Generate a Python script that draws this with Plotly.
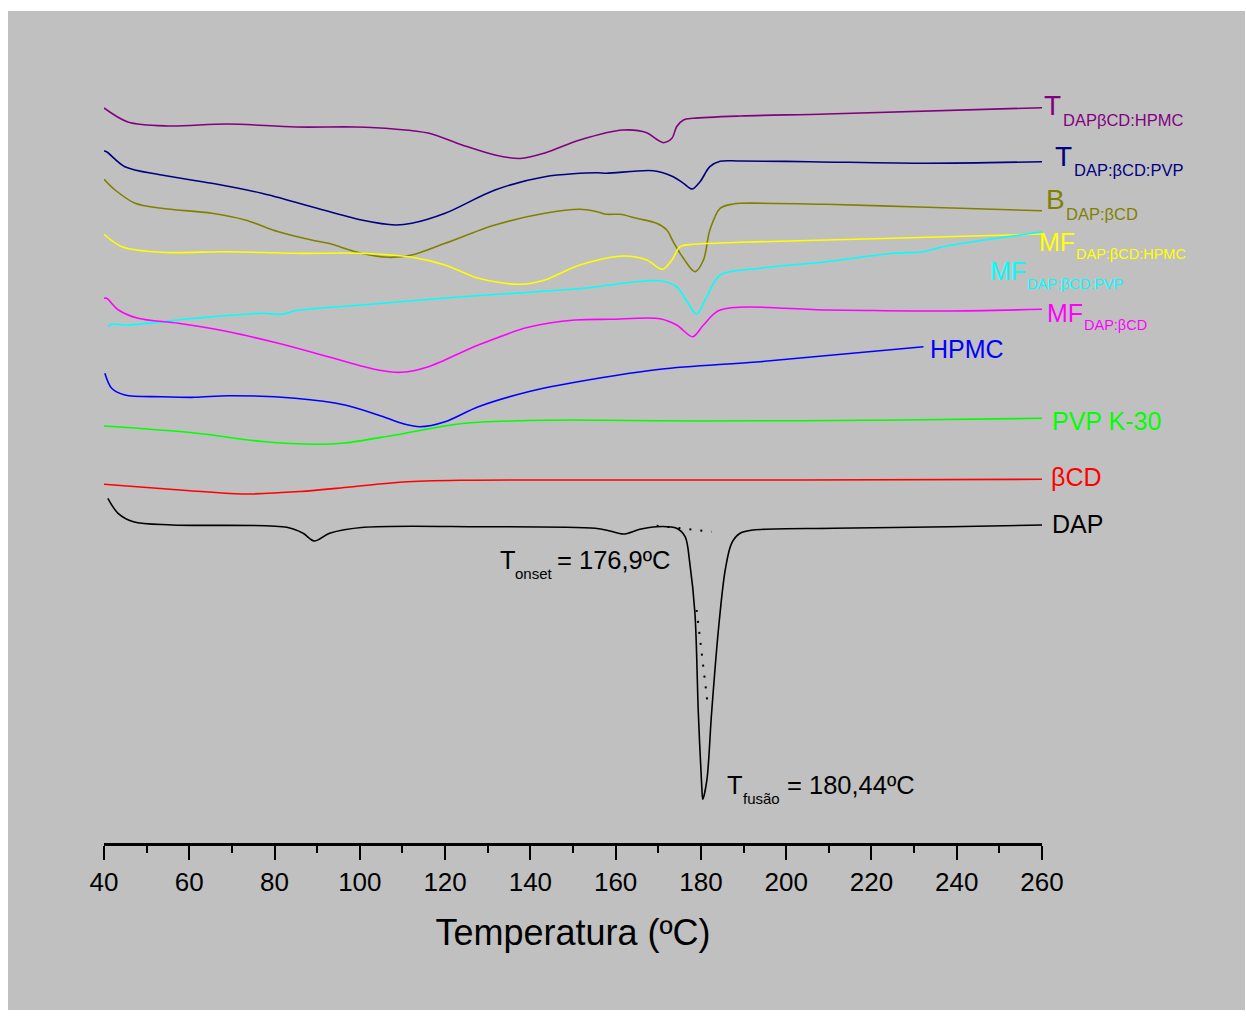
import plotly.graph_objects as go

# ---------------- data (temperature in ºC, heat-flow signal in arbitrary offset units) ----------------
T_tern_hpmc = [40, 45.6, 55, 69, 85, 99, 108, 116, 124, 131.7, 137.6, 143.4, 151.6, 161.7, 167.3, 169.6, 171.2, 173.2, 174.3, 175.9, 178.2, 189.2, 209.6, 260]
S_tern_hpmc = [735, 721, 717, 719, 716, 716, 714, 710, 698, 688, 684.5, 690, 703, 713, 710.3, 703.7, 700.3, 704.7, 716.3, 723, 724.7, 727, 729, 735.3]

T_tern_pvp = [40, 40.6, 44.9, 53.5, 65.3, 77, 88.7, 100.4, 108.3, 112.2, 120, 131.7, 143.4, 155.6, 157.9, 168.8, 173.5, 175.9, 178, 179.8, 182.1, 184.5, 189.2, 205.6, 233, 260]
S_tern_pvp = [692, 691.3, 676.3, 668, 659.7, 649.7, 636.3, 623, 618, 619.7, 629.7, 653, 666.3, 670.3, 669.7, 672.3, 666.3, 659.7, 654, 661.3, 676.3, 681.7, 682, 681.3, 679.7, 681.3]

T_bin = [40, 42.6, 47.3, 53.5, 65.3, 73.1, 80.9, 88.7, 92.6, 100.4, 106.7, 112.2, 120, 131.7, 143.4, 151.6, 155.6, 157.9, 161, 164.9, 169.6, 172, 173.5, 175.9, 178.6, 180.6, 182.1, 184.5, 187.6, 189.2, 209.5, 233, 260]
S_bin = [663.7, 653, 639.7, 634.7, 629.7, 623, 611.3, 603, 599.7, 589.7, 585.7, 588, 599.7, 618, 629.7, 633.7, 631.3, 628.7, 628.7, 624.7, 619.7, 613, 601.3, 584.7, 571.3, 583, 613, 634.7, 639, 639.7, 638.7, 635.7, 632.3]

T_mf_hpmc = [40, 44.2, 53.5, 69.2, 84.8, 100.4, 112.2, 120, 127.8, 137.6, 143.4, 151.6, 161.8, 167.3, 171, 173.2, 175.1, 178.2, 189.2, 225, 260]
S_mf_hpmc = [608.7, 596.3, 590.7, 591.3, 589.7, 589.7, 585.7, 578, 564.7, 558.7, 563, 578, 587, 583, 573.7, 583, 596.3, 598.7, 600.7, 604.7, 609]

T_mf_pvp = [40.9, 41.8, 45.7, 61.3, 77, 81.7, 84.8, 100.4, 123.9, 150.5, 170.4, 174.3, 177, 179, 181.4, 184.5, 193.9, 209.5, 225.1, 232.2, 236.8, 260]
S_mf_pvp = [516.3, 518.7, 518, 524.7, 529.7, 528.7, 532.3, 538, 546.3, 554, 562.3, 556.3, 539.7, 529, 546.3, 568, 574.7, 581.3, 589.7, 591.3, 596.3, 611]

T_mf_bcd = [40, 40.6, 43.4, 48, 57.4, 69.2, 80.9, 92.6, 104.3, 109.8, 116.1, 127.8, 139.5, 150.5, 158.7, 170.4, 174.3, 178.1, 180.6, 184.5, 209.5, 236.8, 260]
S_mf_bcd = [544.7, 544.7, 533, 524.7, 519.7, 511.3, 499.7, 486.3, 473, 470.7, 476.3, 498, 515.7, 523, 523.7, 524.3, 518, 506.3, 518, 533, 533, 532, 533.7]

T_hpmc = [40.2, 41.8, 44.9, 53.5, 61.3, 69.2, 84.8, 96.5, 104.3, 110.6, 114.1, 120, 127.8, 139.5, 147, 170.4, 193.9, 232.2]
S_hpmc = [469.7, 454.7, 448, 446.3, 445.7, 447.3, 444.7, 438, 428, 418.7, 416.3, 421.3, 436.3, 451.3, 458, 473.7, 481.3, 496.3]

T_pvp = [40, 61.3, 77.1, 89.5, 96.5, 108.3, 124, 139.5, 150.5, 179.8, 226.7, 260]
S_pvp = [417, 410, 401.5, 398.7, 400, 408, 419.5, 422.5, 423, 422, 423, 424.7]

T_bcd = [40, 57.8, 72.6, 86, 97.7, 110.1, 123.5, 156.3, 203.2, 260]
S_bcd = [358.7, 353, 349, 351.5, 356, 361, 362.7, 363, 363, 363.7]

T_dap = [40.9, 43.3, 46.9, 56, 82.9, 86.7, 89.3, 92.9, 101, 128.1, 155.2, 158.7, 161.8, 165.7, 169.6, 174.3, 176.3, 177.4, 178.6, 179.4, 180.2, 180.44, 181.4, 182.5, 184.1, 185.7, 187.2, 189.2, 192.3, 211.1, 238.4, 260]
S_dap = [344.7, 329.7, 321.3, 318, 315.7, 309.7, 302, 309.7, 315.7, 316.3, 314.7, 312, 309, 313.7, 316.3, 314.7, 306.3, 279.7, 229.7, 129.7, 56.3, 43.7, 63, 129.7, 213, 273, 299.7, 309.7, 313, 314.7, 316.3, 318]

# onset construction (dotted): extrapolated baseline and inflection tangent
T_onset_base = [169.6, 182.5]
S_onset_base = [317.3, 311.3]
T_onset_tan = [179.0, 181.7]
S_onset_tan = [233, 134.7]

series = [
    (T_tern_hpmc, S_tern_hpmc, "#800080"),
    (T_tern_pvp, S_tern_pvp, "#000080"),
    (T_bin, S_bin, "#808000"),
    (T_mf_hpmc, S_mf_hpmc, "#ffff00"),
    (T_mf_pvp, S_mf_pvp, "#00ffff"),
    (T_mf_bcd, S_mf_bcd, "#ff00ff"),
    (T_hpmc, S_hpmc, "#0000ff"),
    (T_pvp, S_pvp, "#00ff00"),
    (T_bcd, S_bcd, "#ff0000"),
    (T_dap, S_dap, "#000000"),
]

x_ticks = [40, 60, 80, 100, 120, 140, 160, 180, 200, 220, 240, 260]

# ---------------- figure ----------------
W, H = 1246, 1017
ML, MR, MT, MB = 104, 204, 11, 174
PW, PH = W - ML - MR, H - MT - MB
FONT = "Arial, Liberation Sans, sans-serif"


def px(xp):
    return (xp - ML) / PW


def py(yp):
    return (H - MB - yp) / PH


fig = go.Figure()
for T, S, c in series:
    fig.add_trace(go.Scatter(x=T, y=S, mode="lines", line=dict(color=c, width=1.6, shape="spline", smoothing=0.9),
                             hoverinfo="skip"))

for T, S in [(T_onset_base, S_onset_base), (T_onset_tan, S_onset_tan)]:
    fig.add_trace(go.Scatter(x=T, y=S, mode="lines", line=dict(color="black", width=2, dash="2px,9px"),
                             hoverinfo="skip"))

annotations = []


def label(text, xp, yp, size, color):
    annotations.append(dict(text=text, x=px(xp), y=py(yp), xref="paper", yref="paper", xanchor="left",
                            yanchor="middle", showarrow=False, font=dict(family=FONT, size=size, color=color)))


MAIN, SUB = 25, 14.5
labels = [
    ("T", 1042, 105.5, 28, "DAPβCD:HPMC", 1061, 119.5, 16.5, "#800080"),
    ("T", 1053, 156.7, 28, "DAP:βCD:PVP", 1072, 170.5, 16.5, "#000080"),
    ("B", 1044, 199.5, 28, "DAP:βCD", 1064, 213.5, 16.5, "#808000"),
    ("MF", 1037, 242.3, MAIN, "DAP:βCD:HPMC", 1074, 253.5, SUB, "#ffff00"),
    ("MF", 988, 270.5, MAIN, "DAP:βCD:PVP", 1025, 283.5, SUB, "#00ffff"),
    ("MF", 1045, 313, MAIN, "DAP:βCD", 1082, 325, SUB, "#ff00ff"),
]
for m, mx, my, ms, s, sx, sy, ss, c in labels:
    label(m, mx, my, ms, c)
    label(s, sx, sy, ss, c)

label("HPMC", 928, 348.8, MAIN, "#0000ff")
label("PVP K-30", 1050, 421.2, MAIN, "#00ff00")
label("βCD", 1049, 477.3, MAIN, "#ff0000")
label("DAP", 1050, 523.5, MAIN, "#000000")

label("T", 498, 560, 25.5, "black")
label("onset", 513, 573, 15, "black")
label("= 176,9ºC", 555, 560.3, 25.5, "black")

label("T", 725, 785, 25.5, "black")
label("fusão", 741, 798, 15, "black")
label("= 180,44ºC", 785, 785, 25.5, "black")

fig.update_layout(
    width=W, height=H, autosize=False,
    margin=dict(l=ML, r=MR, t=MT, b=MB, pad=0),
    paper_bgcolor="white", plot_bgcolor="rgba(0,0,0,0)",
    showlegend=False,
    font=dict(family=FONT, color="black"),
    annotations=annotations,
    shapes=[dict(type="rect", xref="paper", yref="paper", x0=px(8), x1=px(1245), y0=py(1010), y1=py(11),
                 fillcolor="#c0c0c0", line=dict(width=0), layer="below")],
    xaxis=dict(range=[40, 260], showline=True, linecolor="black", linewidth=3, mirror=False,
               showgrid=False, zeroline=False, ticks="outside", ticklen=14, tickwidth=2, tickcolor="black",
               tickvals=x_ticks, ticktext=[str(v) for v in x_ticks],
               tickfont=dict(family=FONT, size=26, color="black"),
               minor=dict(dtick=10, tick0=40, ticks="outside", ticklen=7, tickwidth=2, tickcolor="black", showgrid=False),
               title=dict(text="Temperatura (ºC)", font=dict(family=FONT, size=36, color="black"), standoff=24)),
    yaxis=dict(range=[0, PH], visible=False, showgrid=False, zeroline=False),
)

fig.write_html("out.html", config={"displayModeBar": False},
               post_script="document.body.style.margin='0';document.body.style.overflow='hidden';")
